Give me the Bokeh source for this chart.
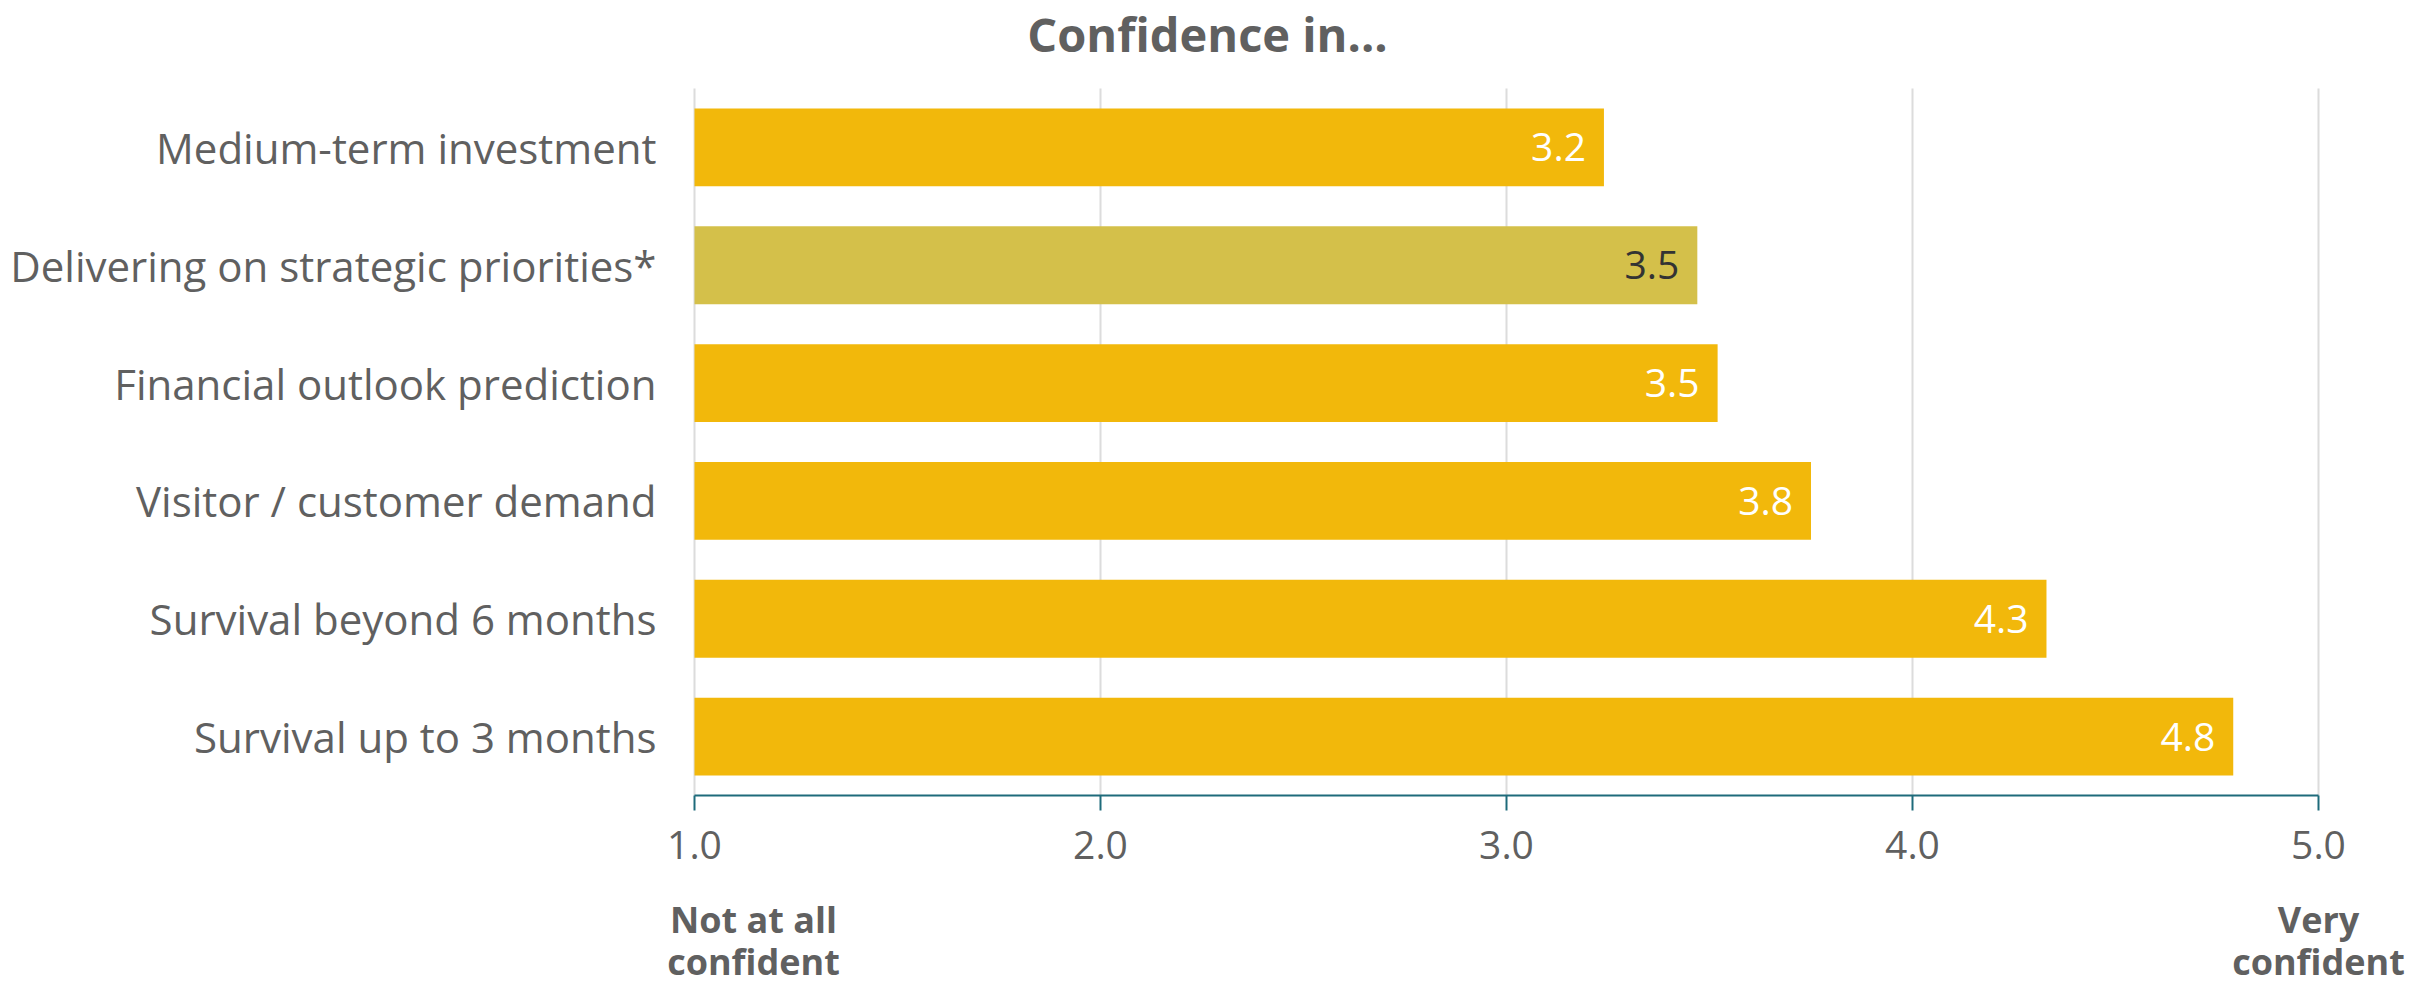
from bokeh.plotting import figure
from bokeh.models import ColumnDataSource, Range1d
from bokeh.core.properties import value
from bokeh.embed import file_html
from bokeh.resources import INLINE

# ---- data ----
categories = [
    "Medium-term investment",
    "Delivering on strategic priorities*",
    "Financial outlook prediction",
    "Visitor / customer demand",
    "Survival beyond 6 months",
    "Survival up to 3 months",
]
scores = [3.24, 3.47, 3.52, 3.75, 4.33, 4.79]
score_labels = ["3.2", "3.5", "3.5", "3.8", "4.3", "4.8"]
bar_colors = ["#F2B80B", "#D4C04A", "#F2B80B", "#F2B80B", "#F2B80B", "#F2B80B"]
label_colors = ["#FFFFFF", "#333333", "#FFFFFF", "#FFFFFF", "#FFFFFF", "#FFFFFF"]
x_ticks = [1, 2, 3, 4, 5]
x_tick_labels = ["1.0", "2.0", "3.0", "4.0", "5.0"]
title_text = "Confidence in..."
low_label = ["Not at all", "confident"]
high_label = ["Very", "confident"]

# ---- style / layout ----
GRAY = "#606060"
TEAL = "#1E6B7B"
GRID = "#DCDCDC"
FONT = value("Open Sans")
W, H = 2430, 984
LEFT, RIGHT, TOP, BOTTOM = 694, 112, 88, 189      # plot-area margins in px
n = len(categories)
XPX = (W - LEFT - RIGHT) / (x_ticks[-1] - x_ticks[0])   # px per x unit
YPX = (H - TOP - BOTTOM) / n                            # px per category


def dx(px):
    return px / XPX


def dy(px):
    return px / YPX


ypos = [n - 1 - i for i in range(n)]   # first category on top
y_lo, y_hi = -0.5, n - 0.5             # category band edges

src = ColumnDataSource(dict(cat=categories, y=ypos, score=scores, lab=score_labels,
                            color=bar_colors, lcolor=label_colors))

p = figure(width=W, height=H, title=None,
           x_range=Range1d(x_ticks[0] - dx(LEFT), x_ticks[-1] + dx(RIGHT)),
           y_range=Range1d(y_lo - dy(BOTTOM), y_hi + dy(TOP)),
           x_axis_location=None, y_axis_location=None,
           output_backend="svg", toolbar_location=None,
           min_border=0)
p.outline_line_color = None
p.background_fill_color = "white"
p.border_fill_color = "white"
p.grid.visible = False

# vertical grid lines over the category band
p.segment(x0=x_ticks, y0=[y_lo] * len(x_ticks), x1=x_ticks, y1=[y_hi] * len(x_ticks),
          line_color=GRID, line_width=2)

# bars
p.hbar(y="y", left=x_ticks[0], right="score", height=0.66,
       fill_color="color", line_color=None, source=src)

# value labels inside bar ends
p.text(x="score", y="y", text="lab", source=src, x_offset=-18,
       text_align="right", text_baseline="middle", text_color="lcolor",
       text_font=FONT, text_font_size="39px")

# category labels (left)
p.text(x=x_ticks[0] - dx(38), y="y", text="cat", source=src,
       text_align="right", text_baseline="middle", text_color=GRAY,
       text_font=FONT, text_font_size="42px")

# x axis line + ticks + tick labels
p.segment(x0=x_ticks[0], y0=y_lo, x1=x_ticks[-1], y1=y_lo, line_color=TEAL, line_width=2)
p.segment(x0=x_ticks, y0=[y_lo] * len(x_ticks), x1=x_ticks,
          y1=[y_lo - dy(15)] * len(x_ticks), line_color=TEAL, line_width=2)
p.text(x=x_ticks, y=[y_lo - dy(49)] * len(x_ticks), text=x_tick_labels,
       text_align="center", text_baseline="alphabetic", text_color=GRAY,
       text_font=FONT, text_font_size="39px")

# title
p.text(x=[x_ticks[0] + dx(1207 - LEFT)], y=[y_hi + dy(55)], text=[title_text],
       text_align="center", text_baseline="alphabetic", text_color=GRAY,
       text_font=FONT, text_font_style="bold", text_font_size="47px")

# scale-end captions
for i in range(2):
    base = y_lo - dy(124 + 42 * i)
    p.text(x=[x_ticks[0] + dx(59), x_ticks[-1]], y=[base, base],
           text=[low_label[i], high_label[i]],
           text_align="center", text_baseline="alphabetic", text_color=GRAY,
           text_font=FONT, text_font_style="bold", text_font_size="36px")

open("out.html", "w").write(file_html(p, INLINE))
